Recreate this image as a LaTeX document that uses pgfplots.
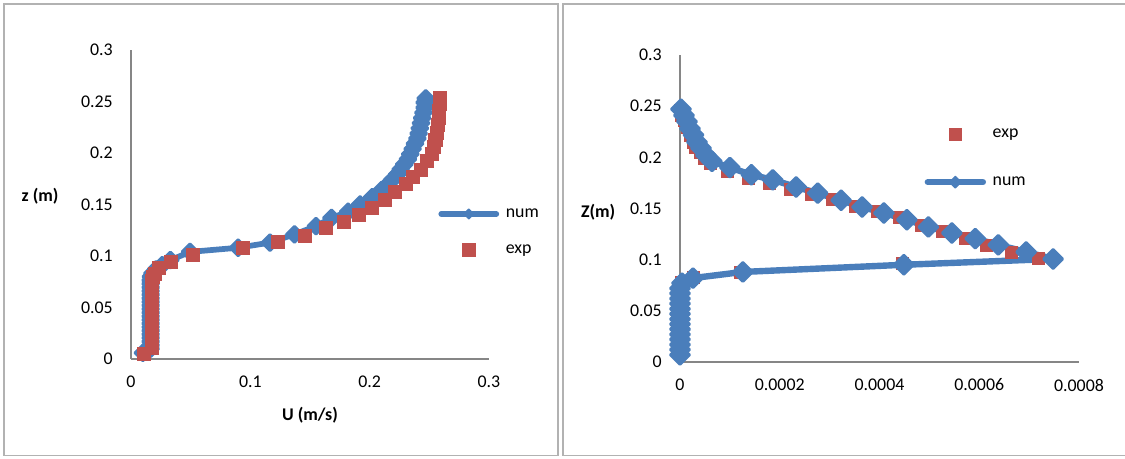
\documentclass[border=0pt]{standalone}
\usepackage{fontspec}
\setmainfont{Carlito}
\usepackage{pgfplots}
\pgfplotsset{compat=1.18}
\definecolor{numblue}{HTML}{4A7EBB}
\definecolor{expred}{HTML}{C0504D}
\definecolor{axgray}{HTML}{868686}
\newcommand{\cf}{\fontsize{13.4}{16}\selectfont}

\pgfplotsset{
  excel/.style={
    scale only axis, clip=false,
    axis x line=bottom, axis y line=left,
    axis line style={axgray, line width=1.2pt, -},
    major tick length=0pt,
    ymin=0, ymax=0.3,
    ytick={0,0.05,0.1,0.15,0.2,0.25,0.3},
    scaled ticks=false,
    /pgf/number format/assume math mode=true,
    every tick label/.append style={font=\cf},
    yticklabel style={anchor=east, inner sep=0pt, xshift=-13.5pt,
      /pgf/number format/fixed, /pgf/number format/precision=2},
    xticklabel style={anchor=north, inner sep=0pt, yshift=-12.5pt,
      /pgf/number format/fixed, /pgf/number format/precision=4},
    label style={font=\cf\bfseries},
    legend cell align=left,
    legend style={draw=none, fill=none, font=\cf, anchor=west,
      inner sep=0pt, column sep=3pt},
    legend image code/.code={\draw[mark repeat=2,mark phase=2,##1]
      plot coordinates {(0cm,0cm) (0.725cm,0cm) (1.45cm,0cm)};},
  },
  numleg/.style={legend image code/.code={\draw[mark repeat=2,mark phase=2,##1,
      mark options={rotate=45,scale=0.6,line width=1pt}]
      plot coordinates {(0cm,0cm) (0.725cm,0cm) (1.45cm,0cm)};}},
}

\begin{document}
\begin{tikzpicture}
\begin{scope}[x=0.75pt,y=0.75pt]
  \useasboundingbox (0,0) rectangle (1125,459);
  \draw[gray!60, line width=1.1pt] (4,3.5) rectangle (558,455);
  \draw[gray!60, line width=1.1pt] (1130,3.5) -- (563,3.5) -- (563,455) -- (1130,455);
\end{scope}

% left panel
\begin{axis}[excel,
    at={(98.25pt,75pt)}, anchor=south west,
    width=268.5pt, height=231.75pt,
    xmin=0, xmax=0.3, xtick={0,0.1,0.2,0.3},
    xlabel={U (m/s)}, ylabel={z (m)},
    xlabel style={at={(axis description cs:0.5,-0.181)}, anchor=center},
    ylabel style={at={(axis description cs:-0.254,0.527)}, rotate=-90, anchor=center},
    legend style={at={(0.858,0.411)}, row sep=15pt},
  ]
  \addplot[numblue, line width=4.3pt, line cap=round, line join=round,
    mark=square*, mark size=4.3pt,
    mark options={rotate=45, solid, line width=2pt}, numleg]
  coordinates {
    (0.010,0.006) (0.0165,0.0100) (0.0165,0.0135) (0.0165,0.0170) (0.0165,0.0205)
    (0.0165,0.0240) (0.0165,0.0275) (0.0165,0.0310) (0.0165,0.0345) (0.0165,0.0380)
    (0.0165,0.0415) (0.0165,0.0450) (0.0165,0.0485) (0.0165,0.0520) (0.0165,0.0555)
    (0.0165,0.0590) (0.0165,0.0625) (0.0165,0.0660) (0.0165,0.0695) (0.0165,0.0730)
    (0.0165,0.0765) (0.0168,0.0800) (0.018,0.083) (0.021,0.087) (0.026,0.091)
    (0.033,0.096) (0.0495,0.104) (0.0897,0.108) (0.1165,0.113) (0.137,0.121)
    (0.155,0.129) (0.168,0.137) (0.182,0.143) (0.192,0.150) (0.202,0.157)
    (0.210,0.164) (0.215,0.169) (0.219,0.174) (0.223,0.179) (0.226,0.184)
    (0.229,0.189) (0.232,0.194) (0.234,0.199) (0.236,0.204) (0.238,0.209)
    (0.240,0.214) (0.241,0.219) (0.242,0.224) (0.243,0.229) (0.244,0.234)
    (0.245,0.239) (0.246,0.244) (0.246,0.249) (0.247,0.253)
  };
  \addlegendentry{num}
  \addplot[only marks, mark=square*, mark size=4.9pt,
    mark options={fill=expred, draw=expred}]
  coordinates {
    (0.011,0.0055) (0.0175,0.0105) (0.0175,0.0155) (0.0175,0.0205) (0.0175,0.0255)
    (0.0175,0.0305) (0.0175,0.0355) (0.0175,0.0405) (0.0175,0.0455) (0.0175,0.0505)
    (0.0175,0.0555) (0.0175,0.0605) (0.0175,0.0655) (0.0175,0.0705) (0.0175,0.0755)
    (0.0180,0.0800) (0.020,0.083) (0.023,0.089) (0.033,0.094) (0.052,0.101)
    (0.094,0.108) (0.123,0.114) (0.146,0.120) (0.163,0.127) (0.178,0.133)
    (0.191,0.140) (0.202,0.147) (0.213,0.155) (0.221,0.162) (0.230,0.170)
    (0.236,0.177) (0.243,0.184) (0.248,0.192) (0.252,0.199) (0.254,0.206)
    (0.255,0.213) (0.256,0.220) (0.257,0.227) (0.258,0.234) (0.258,0.241)
    (0.259,0.248) (0.259,0.254)
  };
  \addlegendentry{exp}
\end{axis}

% right panel
\begin{axis}[excel,
    at={(510pt,72.75pt)}, anchor=south west,
    width=299.25pt, height=230.25pt,
    xmin=0, xmax=0.0008, xtick={0,0.0002,0.0004,0.0006,0.0008},
    ylabel={Z(m)},
    ylabel style={at={(axis description cs:-0.205,0.489)}, rotate=-90, anchor=center},
    legend style={at={(0.6125,0.664)}, row sep=24pt},
  ]
  \addplot[only marks, mark=square*, mark size=4.5pt,
    mark options={fill=expred, draw=expred}]
  coordinates {
    (0,0.010) (0,0.015) (0,0.020) (0,0.025) (0,0.030) (0,0.035) (0,0.040)
    (0,0.045) (0,0.050) (0,0.055) (0,0.060) (0,0.065) (0,0.070) (0.000002,0.078)
    (0.000026,0.083) (0.000120,0.088) (0.000445,0.096) (0.000718,0.1017)
    (0.000664,0.1075) (0.000614,0.114) (0.000572,0.121) (0.000525,0.128)
    (0.000483,0.134) (0.000439,0.141) (0.000395,0.147) (0.000351,0.152)
    (0.000305,0.159) (0.000263,0.164) (0.000221,0.169) (0.000179,0.175)
    (0.000136,0.180) (0.000094,0.186) (0.000060,0.194) (0.000048,0.199)
    (0.000040,0.205) (0.000030,0.210) (0.000026,0.215) (0.000020,0.222)
    (0.000014,0.229) (0.000008,0.236) (0.000003,0.241) (0,0.246)
  };
  \addlegendentry{exp}
  \addplot[numblue, line width=4.8pt, line cap=round, line join=round,
    mark=square*, mark size=5.1pt,
    mark options={rotate=45, solid, line width=2pt}, numleg]
  coordinates {
    (0,0.007) (0,0.012) (0,0.017) (0,0.022) (0,0.027) (0,0.032) (0,0.037)
    (0,0.042) (0,0.047) (0,0.052) (0,0.057) (0,0.062) (0,0.067) (0,0.072)
    (0.000004,0.077) (0.000026,0.082) (0.000126,0.088) (0.000449,0.095)
    (0.000748,0.1007) (0.000694,0.1075) (0.000638,0.1144) (0.000592,0.1205)
    (0.000545,0.126) (0.000498,0.132) (0.000455,0.139) (0.000409,0.1456)
    (0.000365,0.1515) (0.000323,0.158) (0.000276,0.165) (0.000233,0.171)
    (0.000186,0.178) (0.000143,0.183) (0.000100,0.190) (0.000064,0.196)
    (0.000052,0.202) (0.000042,0.209) (0.000034,0.215) (0.000027,0.222)
    (0.000020,0.228) (0.000014,0.235) (0.000008,0.241) (0.000002,0.247)
  };
  \addlegendentry{num}
\end{axis}
\end{tikzpicture}
\end{document}
